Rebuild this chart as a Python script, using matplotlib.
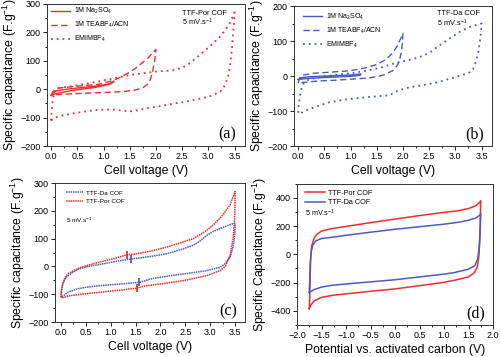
import numpy as np
import matplotlib.pyplot as plt
from matplotlib.ticker import AutoMinorLocator, MultipleLocator

plt.rcParams['font.family'] = ['Liberation Sans', 'DejaVu Sans']
plt.rcParams['mathtext.default'] = 'regular'

RED = '#ee2d2d'
BLUE = '#4a5bbd'

# ---- panel (a): TTF-Por COF in three electrolytes
a_na_x = [0, 0.05, 0.1, 0.3, 0.6, 0.9, 1.1, 1.2, 1.15, 1.0, 0.8, 0.5, 0.3, 0.1, 0]
a_na_y = [-22, -12, -6, 0, 6, 12, 18, 28, 20, 12, 5, -2, -8, -15, -22]
a_tea_x = [0, 0.03, 0.1, 0.3, 0.6, 0.9, 1.13, 1.3, 1.45, 1.6, 1.7, 1.85, 2.0,
           1.99, 1.97, 1.94, 1.9, 1.85, 1.75, 1.6, 1.4, 1.2, 1.0, 0.7, 0.4, 0.1, 0]
a_tea_y = [-22, -10, 3, 7, 12, 17, 28, 40, 55, 72, 87, 110, 140,
           120, 95, 65, 38, 18, 5, -3, -8, -10, -12, -14, -16, -19, -22]
a_emi_x = [0, 0.01, 0.03, 0.06, 0.1, 0.2, 0.3, 0.5, 0.7, 0.9, 1.1, 1.3, 1.5, 1.8, 2.0,
           2.3, 2.5, 2.65, 2.8, 2.95, 3.1, 3.25, 3.4, 3.5,
           3.49, 3.47, 3.45, 3.42, 3.38, 3.32, 3.25, 3.1, 3.0, 2.8, 2.6, 2.3, 2.07, 1.8,
           1.6, 1.5, 1.2, 1.0, 0.8, 0.6, 0.4, 0.2, 0.08, 0.02, 0]
a_emi_y = [-110, -75, -38, -10, 2, 6, 8, 14, 20, 27, 35, 42, 50, 57, 62,
           66, 75, 92, 115, 138, 163, 190, 228, 270,
           230, 190, 140, 90, 45, 15, -5, -20, -27, -35, -43, -52, -60, -68,
           -76, -78, -72, -72, -74, -80, -86, -93, -100, -107, -110]

# ---- panel (b): TTF-Da COF in three electrolytes
b_na_x = [0, 0.05, 0.2, 0.5, 0.8, 1.0, 1.2, 1.18, 1.0, 0.7, 0.4, 0.1, 0]
b_na_y = [-10, -5, -2, 0, 2, 3, 6, 2, -1, -3, -5, -8, -10]
b_tea_x = [0, 0.03, 0.1, 0.3, 0.6, 0.9, 1.1, 1.3, 1.5, 1.65, 1.8, 1.9, 2.0,
           1.99, 1.97, 1.94, 1.9, 1.8, 1.65, 1.5, 1.3, 1.0, 0.7, 0.4, 0.1, 0]
b_tea_y = [-20, -5, 3, 8, 11, 14, 18, 24, 33, 45, 65, 88, 122,
           95, 70, 48, 32, 15, 4, -2, -6, -9, -12, -14, -18, -20]
b_emi_x = [0, 0.01, 0.03, 0.06, 0.1, 0.2, 0.4, 0.7, 1.0, 1.3, 1.6, 1.87, 2.1, 2.3, 2.5,
           2.7, 2.9, 3.1, 3.3, 3.45, 3.5,
           3.49, 3.47, 3.44, 3.4, 3.34, 3.25, 3.1, 3.0, 2.8, 2.6, 2.3, 2.1, 1.9, 1.74,
           1.5, 1.2, 0.9, 0.6, 0.35, 0.15, 0.05, 0]
b_emi_y = [-105, -85, -60, -38, -22, -10, -3, 3, 8, 15, 25, 38, 45, 53, 66,
           88, 108, 128, 142, 148, 150,
           125, 100, 70, 45, 20, 8, 2, -3, -12, -20, -28, -33, -42, -55,
           -58, -62, -67, -75, -87, -98, -106, -105]

# ---- panel (c): EMIMBF4, both COFs
c_por_x = [0, 0.01, 0.03, 0.08, 0.15, 0.25, 0.4, 0.52, 0.7, 0.92, 1.1, 1.32, 1.5, 1.8,
           2.13, 2.4, 2.66, 2.85, 3.07, 3.25, 3.4, 3.5,
           3.5, 3.49, 3.46, 3.4, 3.3, 3.2, 2.93, 2.7, 2.46, 2.2, 1.99, 1.7, 1.52,
           1.2, 0.78, 0.5, 0.32, 0.15, 0.05, 0]
c_por_y = [-112, -90, -65, -40, -25, -15, -3, 3, 12, 22, 30, 42, 45, 55,
           70, 85, 100, 120, 150, 185, 222, 270,
           230, 167, 100, 40, 0, -15, -33, -42, -51, -58, -63, -70, -78,
           -85, -93, -98, -102, -106, -112, -112]
c_da_x = [0, 0.01, 0.04, 0.1, 0.2, 0.35, 0.5, 0.8, 1.1, 1.3, 1.46, 1.8, 2.13, 2.4,
          2.66, 2.8, 2.93, 3.05, 3.2, 3.35, 3.47, 3.5,
          3.5, 3.49, 3.46, 3.4, 3.3, 3.2, 2.93, 2.7, 2.46, 2.2, 1.99, 1.8, 1.59,
          1.2, 0.78, 0.5, 0.32, 0.15, 0.05, 0]
c_da_y = [-110, -85, -60, -40, -25, -10, -2, 8, 18, 24, 28, 36, 46, 60,
          76, 92, 112, 125, 137, 147, 155, 155,
          140, 106, 70, 34, 10, -3, -15, -21, -27, -33, -39, -45, -57,
          -63, -69, -75, -81, -92, -105, -110]
c_por_mark_x = [1.32, 1.52]
c_por_mark_y = [42, -78]
c_da_mark_x = [1.41, 1.57]
c_da_mark_y = [28, -57]

# ---- panel (d): asymmetric cells vs activated carbon
d_por_x = [-1.75, -1.74, -1.73, -1.72, -1.7, -1.65, -1.6, -1.5, -1.3, -1.0, -0.5, 0, 0.5,
           1.0, 1.3, 1.5, 1.65, 1.73, 1.75,
           1.74, 1.73, 1.71, 1.68, 1.62, 1.5, 1.2, 1.0, 0.5, 0, -0.5, -1.0, -1.3,
           -1.5, -1.65, -1.72, -1.75]
d_por_y = [-385, -300, -150, -20, 60, 115, 140, 165, 182, 198, 225, 250, 275,
           298, 310, 325, 345, 370, 380,
           250, 100, -20, -90, -130, -160, -185, -198, -222, -245, -262, -280, -292,
           -305, -330, -360, -385]
d_da_x = [-1.75, -1.74, -1.73, -1.71, -1.68, -1.62, -1.5, -1.2, -1.0, -0.5, 0, 0.5, 1.0,
          1.3, 1.5, 1.65, 1.73, 1.75,
          1.74, 1.72, 1.69, 1.63, 1.5, 1.2, 1.0, 0.5, 0, -0.5, -1.0, -1.3, -1.5,
          -1.65, -1.75]
d_da_y = [-270, -180, -60, 20, 65, 95, 112, 125, 135, 157, 178, 196, 214,
          228, 242, 258, 278, 287,
          180, 60, -30, -80, -105, -130, -140, -160, -180, -195, -210, -220, -232,
          -250, -270]

fig = plt.figure(figsize=(5.0, 3.57), dpi=100)
axa = fig.add_axes([0.094, 0.591, 0.396, 0.398])
axb = fig.add_axes([0.588, 0.591, 0.396, 0.392])
axc = fig.add_axes([0.110, 0.098, 0.380, 0.389])
axd = fig.add_axes([0.594, 0.090, 0.392, 0.395])

dash = (0, (4.5, 2.5))
dot = (0, (1, 2.2))
fine = (0, (1, 0.5))


def style(ax, xlim, ylim, xmaj, ymaj, xlabel, ylabel, tag):
    ax.set_xlim(*xlim)
    ax.set_ylim(*ylim)
    ax.xaxis.set_major_locator(MultipleLocator(xmaj))
    ax.yaxis.set_major_locator(MultipleLocator(ymaj))
    ax.xaxis.set_minor_locator(AutoMinorLocator(2))
    ax.yaxis.set_minor_locator(AutoMinorLocator(2))
    ax.tick_params(which='both', direction='out', width=0.6, labelsize=6.5,
                   pad=1.5, top=False, right=False)
    ax.tick_params(which='major', length=3)
    ax.tick_params(which='minor', length=1.6)
    for s in ax.spines.values():
        s.set_linewidth(0.7)
        s.set_color('#333333')
    ax.set_xlabel(xlabel, fontsize=8.8, labelpad=3)
    ax.set_ylabel(ylabel, fontsize=8.8, labelpad=1)
    ax.text(0.91, 0.08, tag, transform=ax.transAxes, fontsize=11.5,
            family='Liberation Serif', ha='center', va='center')


ylab = 'Specific capacitance (F.g$^{-1}$)'

# (a)
axa.plot(a_na_x, a_na_y, color=RED, lw=1.0, label='1M Na$_2$SO$_4$')
axa.plot(a_tea_x, a_tea_y, color=RED, lw=1.0, ls=dash, label='1M TEABF$_4$/ACN')
axa.plot(a_emi_x, a_emi_y, color=RED, lw=1.3, ls=dot, label='EMIMBF$_4$')
style(axa, (-0.08, 3.7), (-200, 300), 0.5, 100, 'Cell voltage (V)', ylab, '(a)')
axa.legend(loc='upper left', bbox_to_anchor=(0.02, 0.985), frameon=False, fontsize=5,
           handlelength=2.8, handletextpad=0.5, labelspacing=0.55,
           borderpad=0, borderaxespad=0)
axa.text(0.68, 0.935, 'TTF-Por COF', transform=axa.transAxes, fontsize=5.3,
         va='center')
axa.text(0.68, 0.87, '5 mV.s$^{-1}$', transform=axa.transAxes, fontsize=5.3,
         va='center')

# (b)
axb.plot(b_na_x, b_na_y, color=BLUE, lw=1.0, label='1M Na$_2$SO$_4$')
axb.plot(b_tea_x, b_tea_y, color=BLUE, lw=1.0, ls=dash, label='1M TEABF$_4$/ACN')
axb.plot(b_emi_x, b_emi_y, color=BLUE, lw=1.3, ls=dot, label='EMIMBF$_4$')
style(axb, (-0.08, 3.7), (-200, 200), 0.5, 100, 'Cell voltage (V)', ylab, '(b)')
axb.legend(loc='upper left', bbox_to_anchor=(0.045, 0.96), frameon=False, fontsize=5,
           handlelength=2.8, handletextpad=0.5, labelspacing=0.55,
           borderpad=0, borderaxespad=0)
axb.text(0.72, 0.945, 'TTF-Da COF', transform=axb.transAxes, fontsize=5.3,
         va='center')
axb.text(0.72, 0.875, '5 mV.s$^{-1}$', transform=axb.transAxes, fontsize=5.3,
         va='center')

# (c)
axc.plot(c_da_x, c_da_y, color=BLUE, lw=1.1, ls=fine, label='TTF-Da COF')
axc.plot(c_por_x, c_por_y, color=RED, lw=1.1, ls=fine, label='TTF-Por COF')
axc.plot(c_por_mark_x, c_por_mark_y, ls='none', marker='|', ms=6, mew=1.3, color=RED)
axc.plot(c_da_mark_x, c_da_mark_y, ls='none', marker='|', ms=6, mew=1.3, color=BLUE)
style(axc, (-0.12, 3.7), (-200, 300), 0.5, 100, 'Cell voltage (V)', ylab, '(c)')
axc.legend(loc='upper left', bbox_to_anchor=(0.06, 0.95), frameon=False, fontsize=4.6,
           handlelength=2.6, handletextpad=0.5, labelspacing=0.45,
           borderpad=0, borderaxespad=0)
axc.text(0.06, 0.73, '5 mV.s$^{-1}$', transform=axc.transAxes, fontsize=4.6,
         va='center')

# (d)
axd.plot(d_por_x, d_por_y, color=RED, lw=1.1, label='TTF-Por COF')
axd.plot(d_da_x, d_da_y, color=BLUE, lw=1.1, label='TTF-Da COF')
style(axd, (-2.0, 2.0), (-500, 500), 0.5, 200, 'Potential vs. activated carbon (V)',
      'Specific Capacitance (F.g$^{-1}$)', '(d)')
axd.legend(loc='upper left', bbox_to_anchor=(0.04, 0.96), frameon=False, fontsize=5.2,
           handlelength=2.8, handletextpad=0.4, labelspacing=0.4,
           borderpad=0, borderaxespad=0)
axd.text(0.04, 0.79, '5 mV.s$^{-1}$', transform=axd.transAxes, fontsize=5.2,
         va='center')

fig.savefig('out.png', dpi=100)
